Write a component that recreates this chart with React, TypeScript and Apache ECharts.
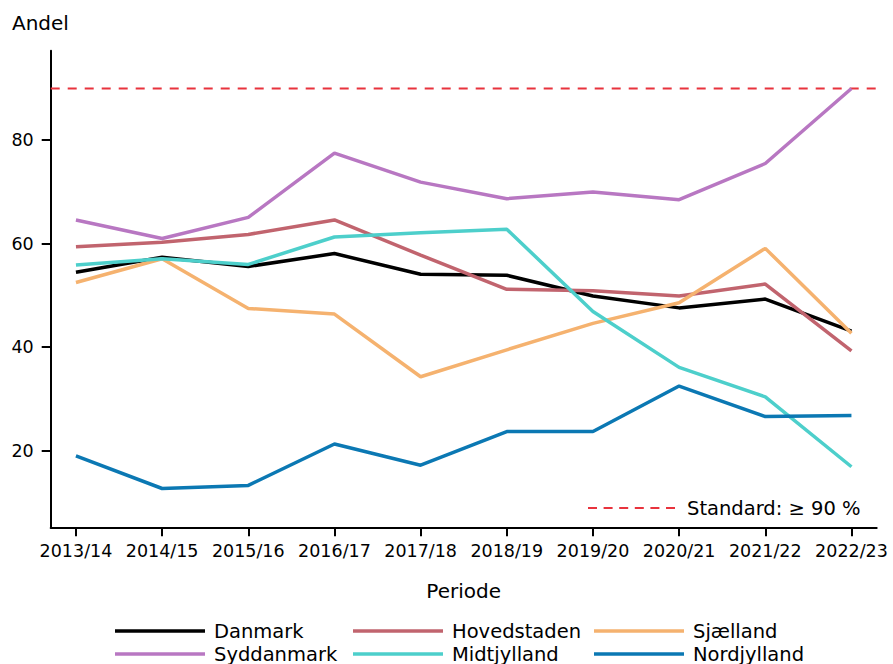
import React, { useEffect, useRef } from "react";
import * as echarts from "echarts";

const periods = ["2013/14", "2014/15", "2015/16", "2016/17", "2017/18", "2018/19", "2019/20", "2020/21", "2021/22", "2022/23"];
const danmark = [54.5, 57.4, 55.6, 58.1, 54.1, 53.9, 49.9, 47.6, 49.3, 43.1];
const hovedstaden = [59.4, 60.3, 61.8, 64.6, 57.8, 51.2, 50.9, 49.9, 52.2, 39.3];
const sjaelland = [52.5, 57.1, 47.5, 46.4, 34.3, 39.5, 44.6, 48.6, 59.1, 42.7];
const syddanmark = [64.6, 61.0, 65.1, 77.5, 71.9, 68.7, 70.0, 68.5, 75.5, 90.0];
const midtjylland = [55.9, 57.1, 56.0, 61.3, 62.1, 62.8, 46.9, 36.1, 30.4, 16.9];
const nordjylland = [19.0, 12.7, 13.3, 21.3, 17.2, 23.7, 23.7, 32.5, 26.6, 26.8];
const yTicks = [20, 40, 60, 80];
const standardValue = 90;
const standardLabel = "Standard: ≥ 90 %";

const seriesNames = ["Danmark", "Hovedstaden", "Sjælland", "Syddanmark", "Midtjylland", "Nordjylland"];
const seriesData = [danmark, hovedstaden, sjaelland, syddanmark, midtjylland, nordjylland];
const seriesColors = ["#000000", "#c1646e", "#f5b26f", "#b877c2", "#4dcfcb", "#0b78b3"];
const standardColor = "#e8333d";

const FONT = "DejaVu Sans";

export default function App() {
  const ref = useRef<HTMLDivElement>(null);
  useEffect(() => {
    if (!ref.current) return;
    const chart = echarts.init(ref.current, undefined, { renderer: "svg" });
    const xMin = -0.293;
    const xMax = periods.length - 1 + 0.293;

    // legend layout: 3 columns x 2 rows
    const colX = [115, 353, 594];
    const rowY = [631, 654];
    const legendGraphics: any[] = [];
    seriesNames.forEach((name, i) => {
      const col = i % 3;
      const row = Math.floor(i / 3);
      const x = colX[col];
      const y = rowY[row];
      legendGraphics.push({
        type: "line",
        shape: { x1: x, y1: y, x2: x + 90, y2: y },
        style: { stroke: seriesColors[i], lineWidth: 3.5 },
        silent: true,
      });
      legendGraphics.push({
        type: "text",
        x: x + 99,
        y: y,
        style: { text: name, fontFamily: FONT, fontSize: 19.5, fill: "#000", verticalAlign: "middle", textAlign: "left" },
        silent: true,
      });
    });
    legendGraphics.push({
      type: "line",
      shape: { x1: 588, y1: 508, x2: 676, y2: 508 },
      style: { stroke: standardColor, lineWidth: 2, lineDash: [9, 6.6] },
      silent: true,
    });
    legendGraphics.push({
      type: "text",
      x: 687,
      y: 508,
      style: { text: standardLabel, fontFamily: FONT, fontSize: 19.5, fill: "#000", verticalAlign: "middle", textAlign: "left" },
      silent: true,
    });

    chart.setOption({
      animation: false,
      textStyle: { fontFamily: FONT },
      grid: { left: 50.7, right: 16.3, top: 50.7, bottom: 136.7, containLabel: false },
      xAxis: {
        type: "value",
        min: xMin,
        max: xMax,
        name: "Periode",
        nameLocation: "middle",
        nameGap: 54,
        nameTextStyle: { fontFamily: FONT, fontSize: 20, color: "#000" },
        axisLine: { show: true, onZero: false, lineStyle: { color: "#000", width: 2 } },
        axisTick: { show: true, inside: false, length: 9, lineStyle: { color: "#000", width: 2 }, customValues: periods.map((_, i) => i) },
        axisLabel: {
          show: true,
          margin: 15,
          fontFamily: FONT,
          fontSize: 17.5,
          color: "#000",
          customValues: periods.map((_, i) => i),
          formatter: (v: number) => periods[Math.round(v)] ?? "",
        },
        splitLine: { show: false },
      },
      yAxis: {
        type: "value",
        min: 5.2,
        max: 97.3,
        axisLine: { show: true, onZero: false, lineStyle: { color: "#000", width: 2 } },
        axisTick: { show: true, length: 9, lineStyle: { color: "#000", width: 2 }, customValues: yTicks },
        axisLabel: { show: true, margin: 17, fontFamily: FONT, fontSize: 17.5, color: "#000", customValues: yTicks },
        splitLine: { show: false },
      },
      graphic: [
        {
          type: "text",
          left: 12,
          top: 13,
          style: { text: "Andel", fontFamily: FONT, fontSize: 20, fill: "#000" },
        },
        ...legendGraphics,
      ],
      series: [
        {
          name: standardLabel,
          type: "line",
          data: [[xMin, standardValue], [xMax, standardValue]],
          symbol: "none",
          lineStyle: { color: standardColor, width: 2, type: [9, 8] },
          itemStyle: { color: standardColor },
          z: 2,
        },
        ...seriesNames.map((name, i) => ({
          name,
          type: "line",
          data: seriesData[i].map((v, j) => [j, v]),
          symbol: "none",
          lineStyle: { color: seriesColors[i], width: 3.5 },
          itemStyle: { color: seriesColors[i] },
          z: 3,
        })),
      ],
    });
    return () => chart.dispose();
  }, []);
  return <div ref={ref} style={{ position: "absolute", left: 0, top: 0, width: 893, height: 664, background: "#fff" }} />;
}
